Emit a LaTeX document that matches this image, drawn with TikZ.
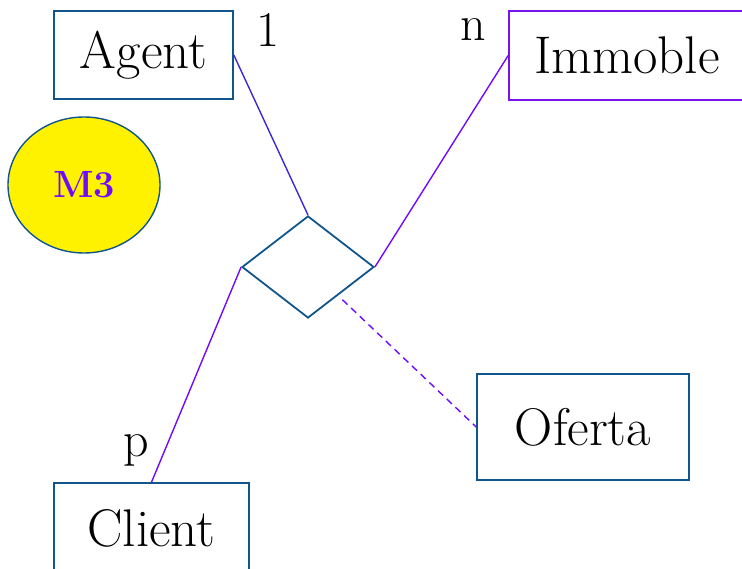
\documentclass[tikz,border=0pt]{standalone}
\usepackage{tikz}
\usetikzlibrary{shapes.geometric}

\definecolor{boxblue}{RGB}{16,86,140}
\definecolor{boxpurple}{RGB}{120,20,235}
\definecolor{linkpurple}{RGB}{112,10,255}
\definecolor{linkblue}{RGB}{60,40,215}

\begin{document}
\begin{tikzpicture}[x=1pt, y=-1pt,
    entity/.style={draw=boxblue, line width=1.6pt, inner sep=0pt,
        font=\fontsize{53}{58}\selectfont},
    relation/.style={diamond, draw=boxblue, line width=1.8pt, inner sep=0pt,
        minimum width=132pt, minimum height=102pt},
    card/.style={inner sep=0pt, font=\fontsize{50}{55}\selectfont},
    link/.style={draw=linkpurple, line width=1.4pt}]
    \useasboundingbox (0,0) rectangle (742,569);

    % Nodes {Agent, Immoble, Client, Oferta, rel}
    \node [entity, minimum width=179pt, minimum height=88pt]  (agent)   at (143.5,55)  {Agent};
    \node [entity, draw=boxpurple, minimum width=236pt, minimum height=89pt] (immoble) at (627,55.5) {Immoble};
    \node [entity, minimum width=195pt, minimum height=90pt]  (client)  at (151.5,528) {Client};
    \node [entity, minimum width=212pt, minimum height=106pt] (oferta)  at (583,427)   {Oferta};
    \node [relation]                                          (rel)     at (308,267)   {};
    \node [ellipse, draw=boxblue, line width=1.4pt, fill=yellow,
        minimum width=152pt, minimum height=136pt,
        font=\fontsize{38}{42}\selectfont\bfseries, text=linkpurple] (m3) at (84,185) {M3};

    % Cardinalities
    \node [card] (c1) at (268,30)  {1};
    \node [card] (cn) at (473,30)  {n};
    \node [card] (cp) at (136,450) {p};

    % Paths
    \path [link, draw=linkblue] (agent.east)   -- (rel.north);
    \path [link]                (immoble.west) -- (rel.east);
    \path [link]                (client.north) -- (rel.west);
    \path [link, dashed, dash pattern=on 7pt off 5pt, shorten <=6pt] (rel) -- (oferta.west);
\end{tikzpicture}
\end{document}
